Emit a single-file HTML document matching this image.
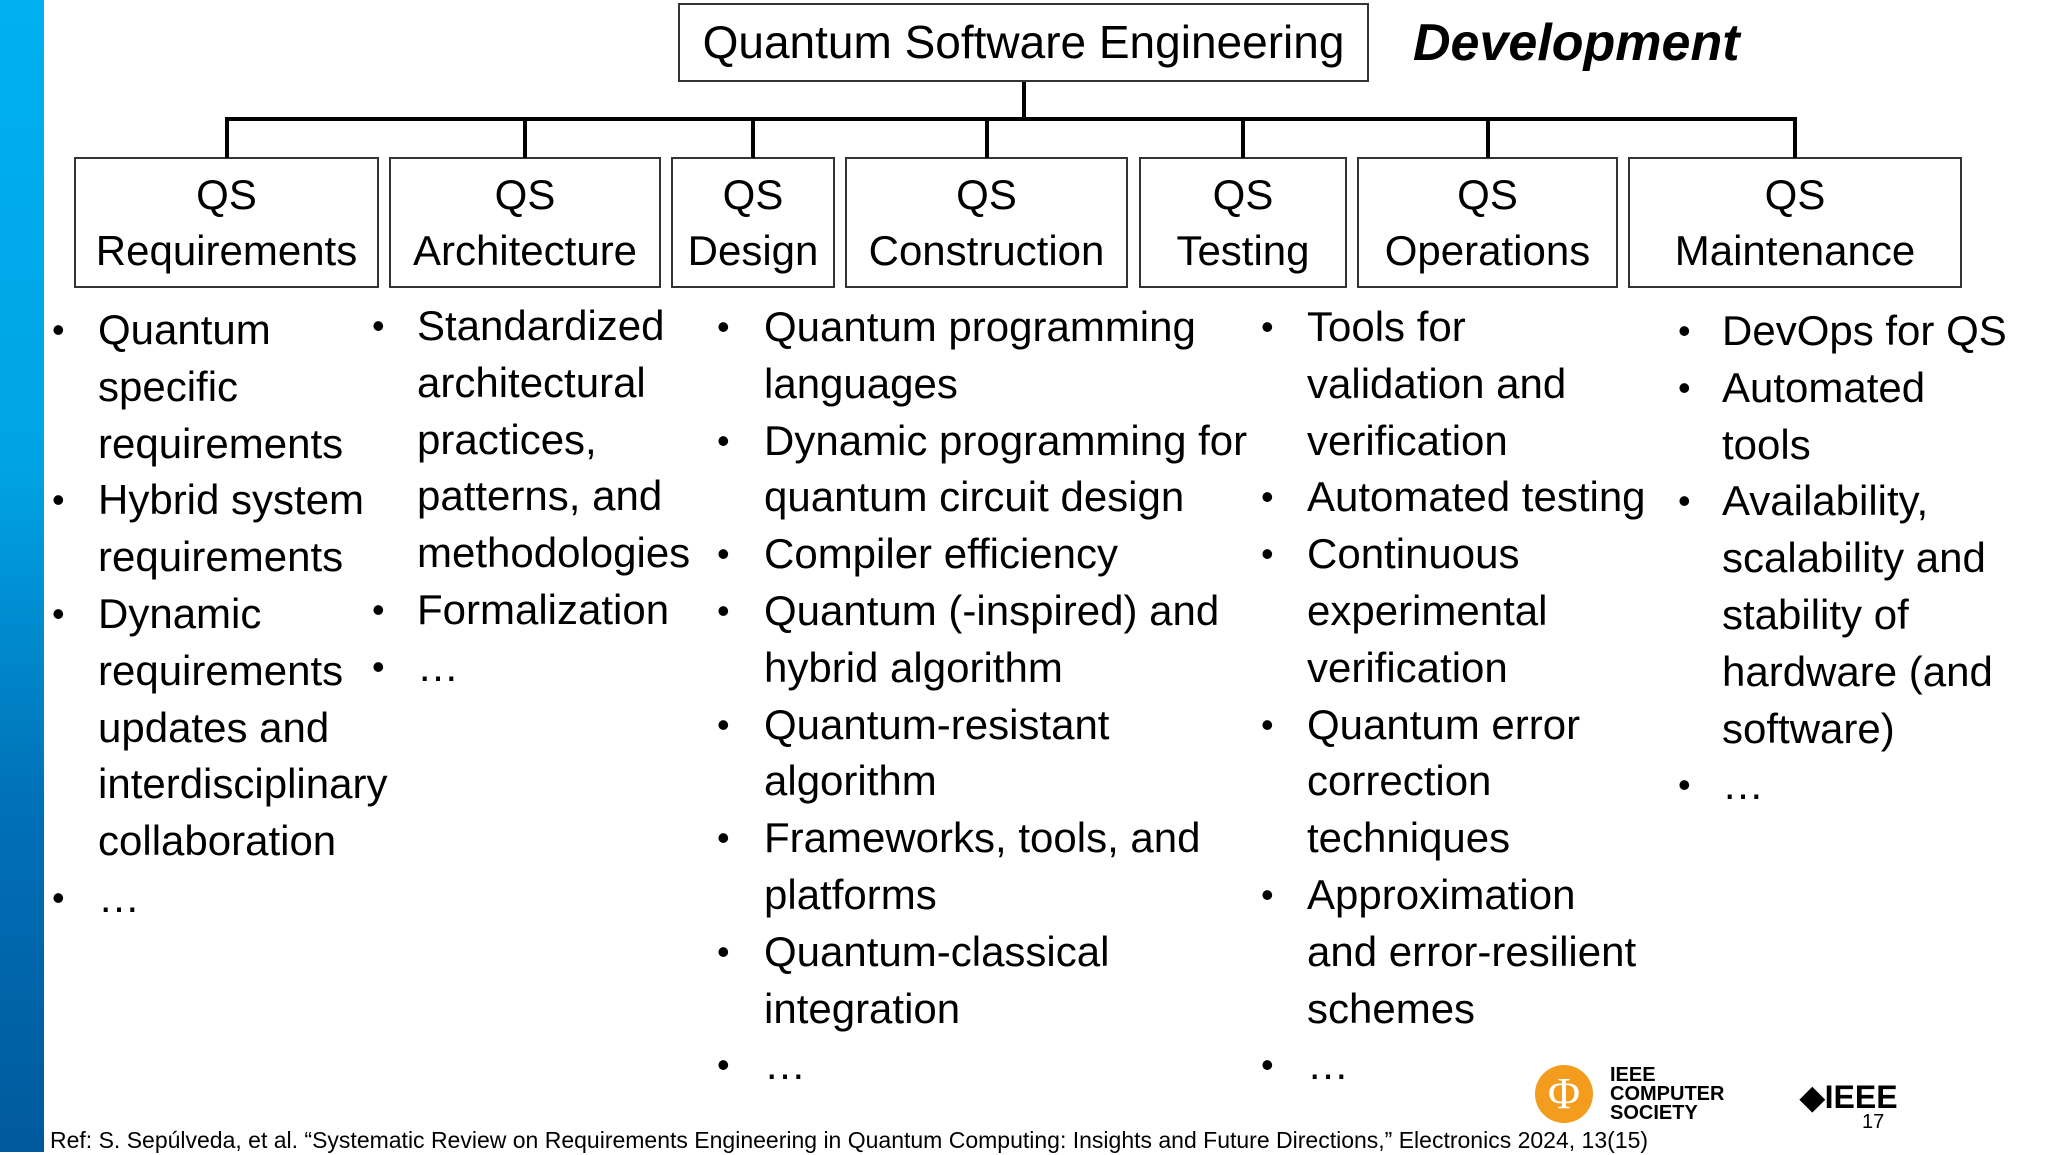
<!DOCTYPE html>
<html><head><meta charset="utf-8"><style>
html,body{margin:0;padding:0;width:2048px;height:1152px;overflow:hidden;background:#fff;font-family:"Liberation Sans",sans-serif;color:#000}
.abs{position:absolute}
.box{position:absolute;border:2px solid #333;box-sizing:border-box;top:157px;height:131px;text-align:center;font-size:42px;line-height:56px;padding-top:8px;white-space:nowrap}
.ln{position:absolute;font-size:42px;line-height:56px;white-space:nowrap;letter-spacing:0px}
.bul{position:absolute;font-size:36px;line-height:56px}
.hl{position:absolute;background:#000}
</style></head><body>
<div class="abs" style="left:0;top:0;width:44px;height:1152px;background:linear-gradient(#00b0f0 0%,#00a4e4 40%,#0070b8 70%,#005a9c 100%)"></div>
<div class="abs" style="left:678px;top:3px;width:691px;height:79px;border:2px solid #333;box-sizing:border-box;text-align:center;font-size:46px;line-height:75px;white-space:nowrap">Quantum Software Engineering</div>
<div class="abs" style="left:1413px;top:8px;font-size:52px;font-weight:bold;font-style:italic;line-height:70px">Development</div>
<div class="hl" style="left:1022px;top:82px;width:4px;height:37px"></div>
<div class="hl" style="left:225px;top:117px;width:1572px;height:4px"></div>
<div id="wrap"></div>
<div class="abs" style="left:50px;top:1125px;font-size:23px;line-height:30px;white-space:nowrap">Ref: S. Sepúlveda, et al. “Systematic Review on Requirements Engineering in Quantum Computing: Insights and Future Directions,” Electronics 2024, 13(15)</div>
<div class="abs" style="left:1535px;top:1065px;width:58px;height:58px;border-radius:50%;background:#f39c1d;color:#fff;font-size:44px;line-height:58px;text-align:center;font-family:'Liberation Serif',serif">Φ</div>
<div class="abs" style="left:1610px;top:1066px;font-size:20px;font-weight:bold;line-height:19px">IEEE<br>COMPUTER<br>SOCIETY</div>
<div class="abs" style="left:1800px;top:1080px;font-size:32px;font-weight:bold;line-height:34px">◆IEEE</div>
<div class="abs" style="left:1862px;top:1110px;font-size:20px;line-height:24px">17</div>
<script>
const boxes=[["QS","Requirements",74,379],["QS","Architecture",389,661],["QS","Design",671,835],["QS","Construction",845,1128],["QS","Testing",1139,1347],["QS","Operations",1357,1618],["QS","Maintenance",1628,1962]];
const cols=[
{b:52,t:98,top:302,lines:[[1,"Quantum"],[0,"specific"],[0,"requirements"],[1,"Hybrid system"],[0,"requirements"],[1,"Dynamic"],[0,"requirements"],[0,"updates and"],[0,"interdisciplinary"],[0,"collaboration"],[1,"…"]]},
{b:372,t:417,top:298,lines:[[1,"Standardized"],[0,"architectural"],[0,"practices,"],[0,"patterns, and"],[0,"methodologies"],[1,"Formalization"],[1,"…"]]},
{b:717,t:764,top:299,lines:[[1,"Quantum programming"],[0,"languages"],[1,"Dynamic programming for"],[0,"quantum circuit design"],[1,"Compiler efficiency"],[1,"Quantum (-inspired) and"],[0,"hybrid algorithm"],[1,"Quantum-resistant"],[0,"algorithm"],[1,"Frameworks, tools, and"],[0,"platforms"],[1,"Quantum-classical"],[0,"integration"],[1,"…"]]},
{b:1261,t:1307,top:299,lines:[[1,"Tools for"],[0,"validation and"],[0,"verification"],[1,"Automated testing"],[1,"Continuous"],[0,"experimental"],[0,"verification"],[1,"Quantum error"],[0,"correction"],[0,"techniques"],[1,"Approximation"],[0,"and error-resilient"],[0,"schemes"],[1,"…"]]},
{b:1678,t:1722,top:303,lines:[[1,"DevOps for QS"],[1,"Automated"],[0,"tools"],[1,"Availability,"],[0,"scalability and"],[0,"stability of"],[0,"hardware (and"],[0,"software)"],[1,"…"]]}];
const w=document.getElementById('wrap');
boxes.forEach(b=>{
 const d=document.createElement('div');d.className='box';
 
 
 d.style.left=b[2]+'px';d.style.width=(b[3]-b[2])+'px';
 d.innerHTML=b[0]+'<br>'+b[1];w.appendChild(d);
 const v=document.createElement('div');v.className='hl';
 
 
 v.style.left=((b[2]+b[3])/2-2)+'px';v.style.top='119px';v.style.width='4px';v.style.height='39px';w.appendChild(v);
});
cols.forEach((c,ci)=>{
 c.lines.forEach((l,i)=>{
  const y=c.top+i*56.8;
  if(l[0]){const s=document.createElement('div');s.className='bul';
   
   
   s.style.left=c.b+'px';s.style.top=y+'px';s.textContent='•';w.appendChild(s);}
  const t=document.createElement('div');t.className='ln';
  
  
  t.style.left=c.t+'px';t.style.top=y+'px';t.textContent=l[1];w.appendChild(t);
 });
});
</script>
</body></html>
